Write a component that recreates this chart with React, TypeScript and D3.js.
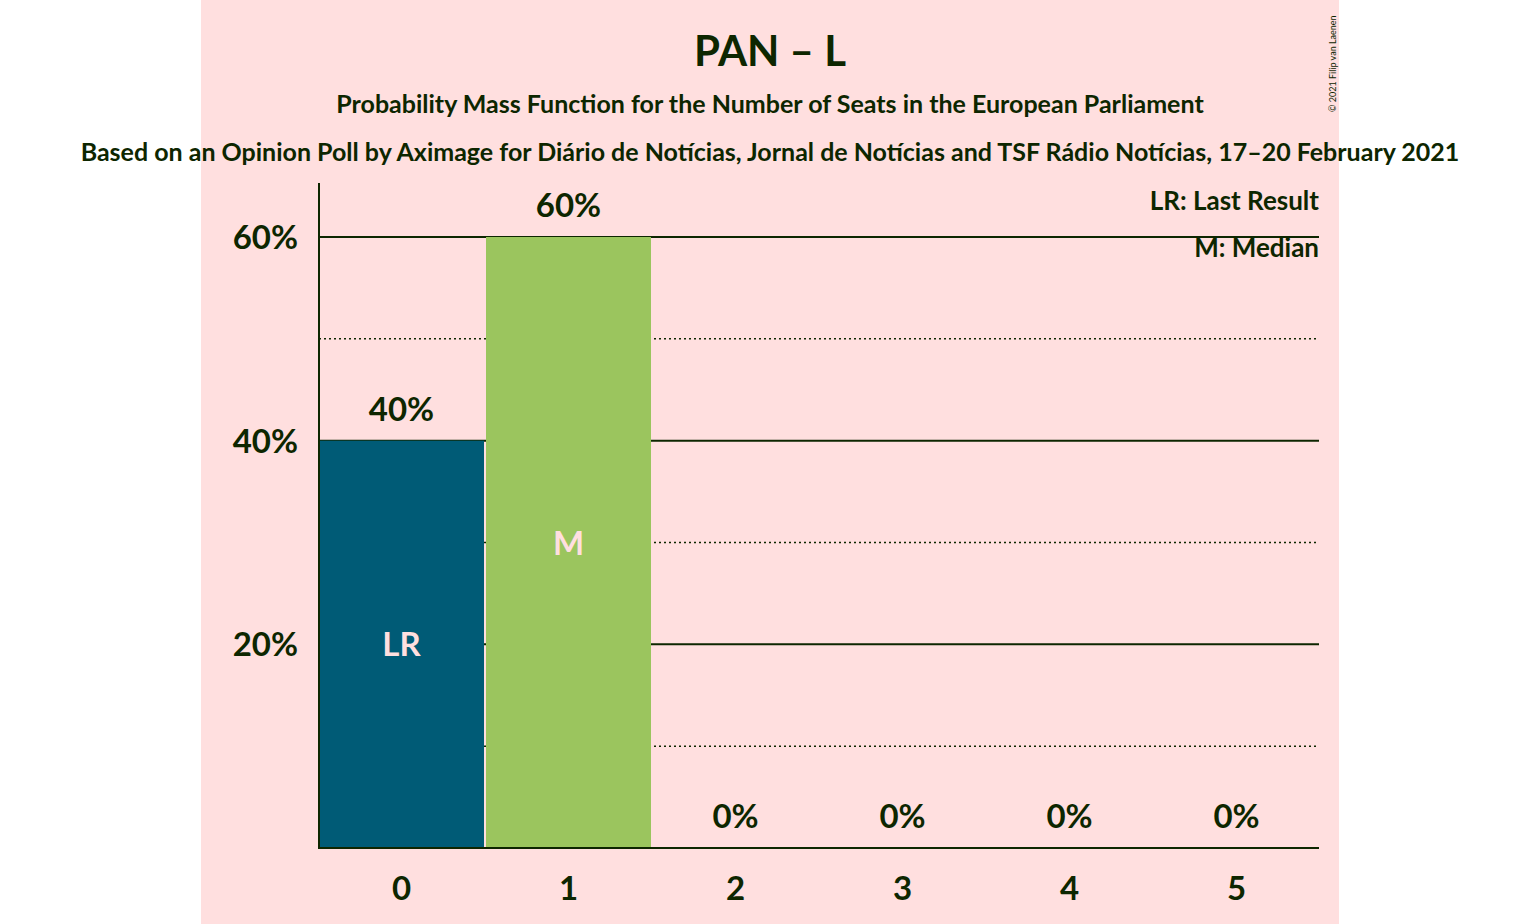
import * as d3 from "d3";

const seats = [0, 1, 2, 3, 4, 5];
const probs = [0.4, 0.6, 0, 0, 0, 0];
const valueLabels = ["40%", "60%", "0%", "0%", "0%", "0%"];
const barLabels = ["LR", "M", "", "", "", ""];
const barColors = ["#005B76", "#9BC55E", "#9BC55E", "#9BC55E", "#9BC55E", "#9BC55E"];
const solidTicks = [0.2, 0.4, 0.6];
const dottedTicks = [0.1, 0.3, 0.5];

const W = 1540;
const H = 924;
const ink = "#0D2600";
const font = "Lato, 'Noto Sans', sans-serif";

export default function App() {
  const x = d3.scaleBand<number>().domain(seats).range([319, 1319]).paddingInner(0.012);
  const y = d3.scaleLinear().domain([0, 0.6]).range([848, 237]);

  return (
    <svg width={W} height={H} style={{ position: "absolute", left: 0, top: 0 }} fontFamily={font}>
      <rect x={0} y={0} width={W} height={H} fill="#fff" />
      <rect x={201} y={0} width={1138} height={H} fill="#FFDFDF" />
      <text x={770} y={66} textAnchor="middle" fontSize={42} fontWeight="bold" fill={ink}>PAN – L</text>
      <text x={770} y={113} textAnchor="middle" fontSize={25} fontWeight="bold" fill={ink}>
        Probability Mass Function for the Number of Seats in the European Parliament
      </text>
      <text x={770} y={161} textAnchor="middle" fontSize={25} fontWeight="bold" fill={ink}>
        Based on an Opinion Poll by Aximage for Diário de Notícias, Jornal de Notícias and TSF Rádio Notícias, 17–20 February 2021
      </text>
      <text transform="translate(1336,112) rotate(-90)" fontSize={9} fill={ink}>© 2021 Filip van Laenen</text>
      {dottedTicks.map((t) => (
        <line key={"d" + t} x1={319} x2={1319} y1={y(t)} y2={y(t)} stroke={ink} strokeDasharray="2,3" strokeWidth={1.5} />
      ))}
      {solidTicks.map((t) => (
        <line key={"s" + t} x1={319} x2={1319} y1={y(t)} y2={y(t)} stroke={ink} strokeWidth={2} />
      ))}
      {seats.map((s, i) => (
        <g key={s}>
          {probs[i] > 0 && (
            <rect x={x(s)!} y={y(probs[i])} width={x.bandwidth()} height={848 - y(probs[i])} fill={barColors[i]} />
          )}
          <text x={x(s)! + x.bandwidth() / 2} y={y(probs[i]) - 20} textAnchor="middle" fontSize={33} fontWeight="bold" fill={ink}>
            {valueLabels[i]}
          </text>
          {barLabels[i] && (
            <text x={x(s)! + x.bandwidth() / 2} y={y(probs[i] / 2) + 12} textAnchor="middle" fontSize={33} fontWeight="bold" fill="#FFDFDF">
              {barLabels[i]}
            </text>
          )}
          <text x={x(s)! + x.bandwidth() / 2} y={900} textAnchor="middle" fontSize={33} fontWeight="bold" fill={ink}>{s}</text>
        </g>
      ))}
      {solidTicks.map((t) => (
        <text key={"l" + t} x={298} y={y(t) + 12} textAnchor="end" fontSize={33} fontWeight="bold" fill={ink}>
          {Math.round(t * 100)}%
        </text>
      ))}
      <line x1={319} x2={319} y1={183} y2={849} stroke={ink} strokeWidth={2} />
      <line x1={318} x2={1319} y1={848} y2={848} stroke={ink} strokeWidth={2} />
      <text x={1319} y={210} textAnchor="end" fontSize={26} fontWeight="bold" fill={ink}>LR: Last Result</text>
      <text x={1319} y={257} textAnchor="end" fontSize={26} fontWeight="bold" fill={ink}>M: Median</text>
    </svg>
  );
}
